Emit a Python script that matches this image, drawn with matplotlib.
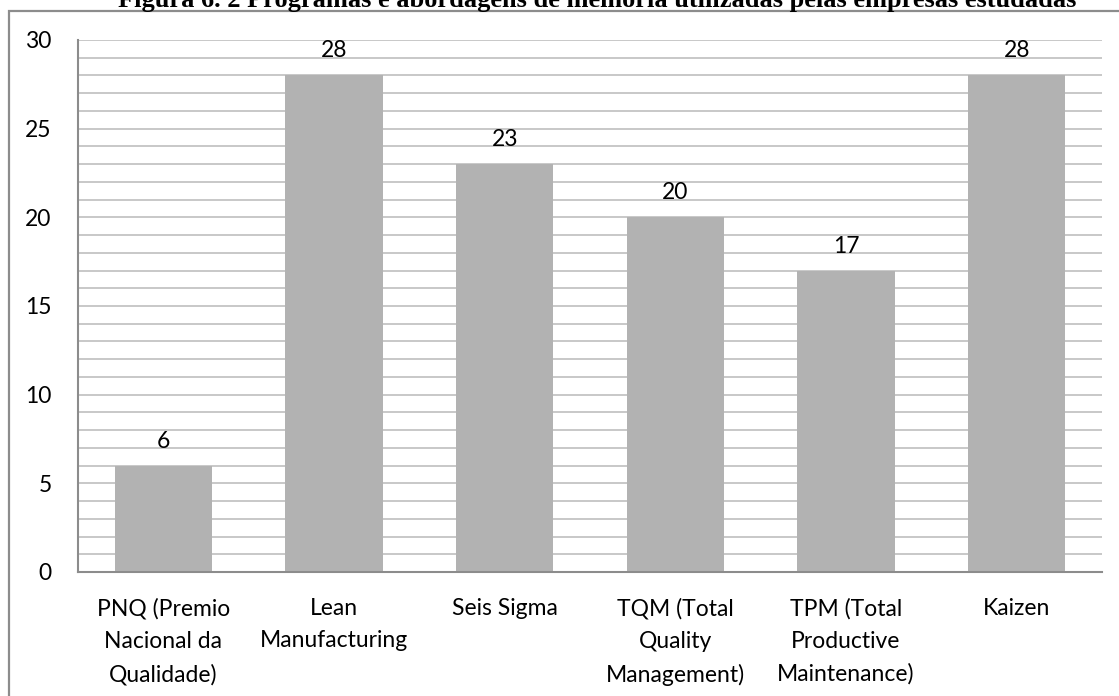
import matplotlib
matplotlib.use("Agg")
import matplotlib.pyplot as plt
from matplotlib.patches import Rectangle
from matplotlib.ticker import MultipleLocator

categories = [
    "PNQ (Premio\nNacional da\nQualidade)",
    "Lean\nManufacturing",
    "Seis Sigma",
    "TQM (Total\nQuality\nManagement)",
    "TPM (Total\nProductive\nMaintenance)",
    "Kaizen",
]
values = [6, 28, 23, 20, 17, 28]
y_ticks = [0, 5, 10, 15, 20, 25, 30]
title = "Figura 6. 2 Programas e abordagens de melhoria utilizadas pelas empresas estudadas"

W, H = 1119, 696
fig = plt.figure(figsize=(W / 100, H / 100), dpi=100)
fig.patch.set_facecolor("white")

font = "Lato"
fs = 16.5

# outer chart frame (left and top edges visible)
fig.add_artist(Rectangle((8.5 / W, -0.05), 1.2, (H - 11) / H + 0.05,
                         transform=fig.transFigure, fill=False,
                         edgecolor="#8c8c8c", linewidth=1.6))

fig.text(597 / W, 1 - 7 / H, title, ha="center", va="baseline",
         family="Liberation Serif", fontweight="bold", fontsize=19)

ax = fig.add_axes([78 / W, (H - 572) / H, 1024 / W, 532 / H])
x = range(len(categories))
ax.bar(x, values, width=0.57, color="#b2b2b2", zorder=2)
ax.set_xlim(-0.5, len(categories) - 0.5)
ax.set_ylim(0, 30)
ax.set_yticks(y_ticks)
ax.yaxis.set_minor_locator(MultipleLocator(1))
ax.grid(axis="y", which="both", color="#c4c4c4", linewidth=1.3, zorder=0)
ax.set_axisbelow(True)

for s in ["top", "right"]:
    ax.spines[s].set_visible(False)
for s in ["left", "bottom"]:
    ax.spines[s].set_color("#8c8c8c")
    ax.spines[s].set_linewidth(1.5)

ax.tick_params(axis="both", which="both", length=0)
ax.tick_params(axis="y", pad=19)
ax.tick_params(axis="x", pad=19)
ax.set_xticks(list(x))
ax.set_xticklabels(categories, family=font, fontsize=fs, linespacing=1.65,
                   va="top")
for lbl in ax.get_yticklabels():
    lbl.set_family(font)
    lbl.set_fontsize(fs)

for xi, v in zip(x, values):
    ax.annotate(str(v), (xi, v), xytext=(0, 18), textcoords="offset pixels",
                ha="center", va="baseline", family=font, fontsize=fs)

fig.savefig("out.png", dpi=100, facecolor="white")
